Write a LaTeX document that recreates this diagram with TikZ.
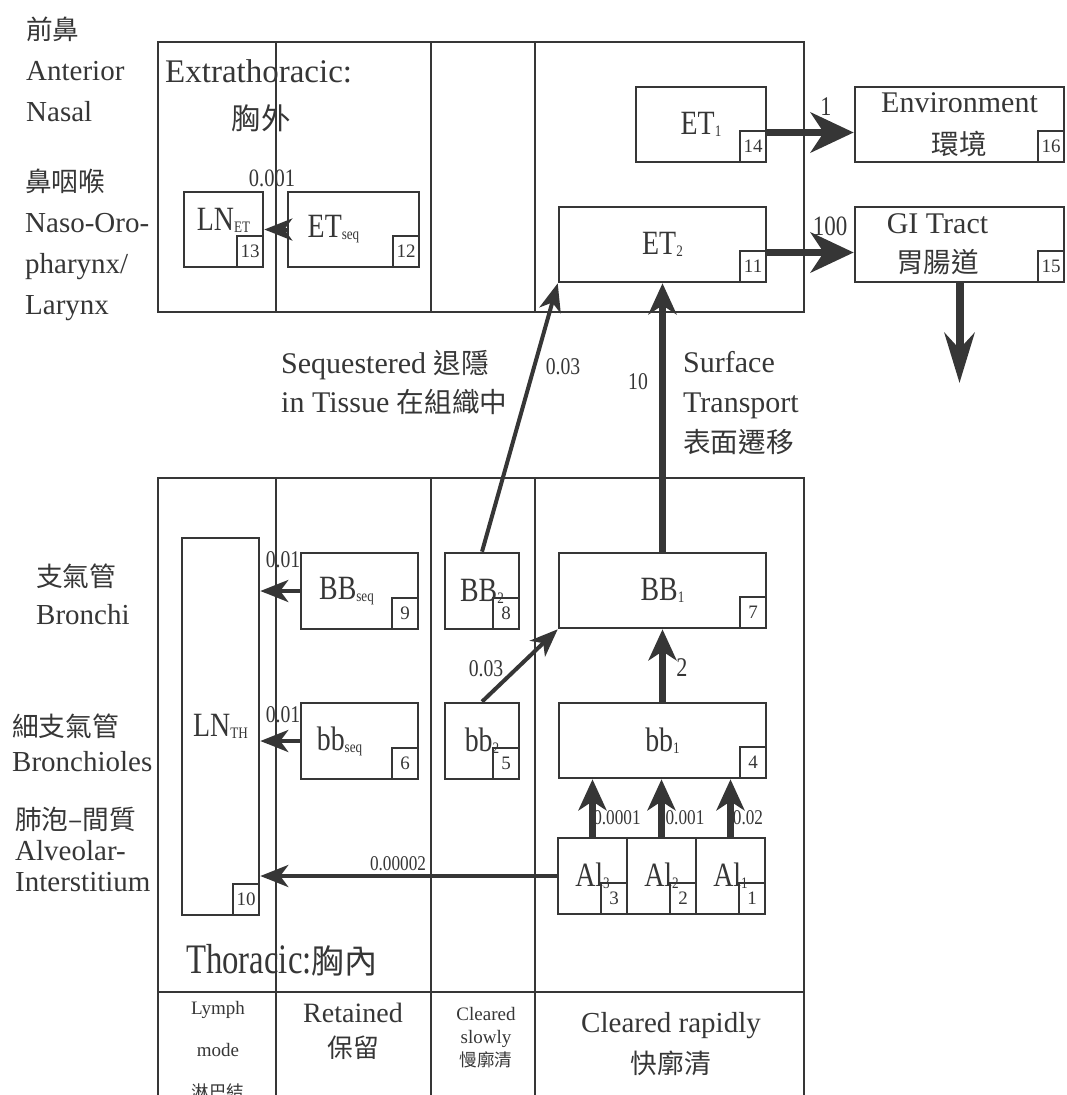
\documentclass[tikz,border=0pt]{standalone}
\usepackage{fontspec}
\setmainfont{Liberation Serif}
\newfontfamily\cond{Liberation Serif}[FakeStretch=0.82]
\newfontfamily\cjk{Noto Sans CJK TC}[Scale=0.92]
\usetikzlibrary{arrows.meta, positioning, calc}

\definecolor{ink}{HTML}{363636}
\newcommand\fsz[2]{\fontsize{#1}{#2}\selectfont}
\newcommand\subs[1]{\raisebox{-2pt}{\fsz{16}{16}#1}}

\begin{document}
\begin{tikzpicture}[x=1pt, y=-1pt,
        comp/.style={rectangle, draw=ink, line width=2.6pt, inner sep=0pt, text=ink, align=center, font=\cond\fsz{34}{38}},
        numbox/.style={rectangle, draw=ink, line width=2.4pt, anchor=south east, minimum width=26pt, minimum height=31pt, inner sep=0pt, text=ink, font=\fsz{19}{19}},
        frame/.style={draw=ink, line width=2.6pt},
        lbl/.style={text=ink, align=left, inner sep=0pt, font=\fsz{29}{41}},
        ttl/.style={text=ink, align=center, inner sep=0pt},
        rate/.style={text=ink, inner sep=0pt, font=\cond\fsz{24}{24}},
        thinarrow/.style={-{Stealth[length=28pt, width=22pt, inset=8pt]}, line width=4pt, draw=ink},
        thickarrow/.style={-{Stealth[length=31pt, width=28pt, inset=9pt]}, line width=7pt, draw=ink},
        bigarrow/.style={-{Stealth[length=43pt, width=40pt, inset=13pt]}, line width=7.5pt, draw=ink},
        downarrow/.style={-{Stealth[length=50pt, width=30pt, inset=16pt]}, line width=8pt, draw=ink}
    ]
    \useasboundingbox (0,0) rectangle (1067,1095);

    % region labels on the left
    \node[lbl, anchor=west] (antnasal) at (26,69) {{\cjk 前鼻}\\Anterior\\Nasal};
    \node[lbl, anchor=west] (nasoph) at (25,245) {{\cjk 鼻咽喉}\\Naso-Oro-\\pharynx/\\Larynx};
    \node[lbl, anchor=west, font=\fsz{29}{38}] (bronchi) at (36,594) {{\cjk 支氣管}\\Bronchi};
    \node[lbl, anchor=west, font=\fsz{29}{35}] (bronchioles) at (12,743) {{\cjk 細支氣管}\\Bronchioles};
    \node[lbl, anchor=west, font=\fsz{29}{31}] (alveolar) at (15,849) {{\cjk 肺泡–間質}\\Alveolar-\\Interstitium};

    % extrathoracic region
    \draw[frame] (158,42) rectangle (804,312);
    \foreach \x in {276,431,535}
        \draw[frame] (\x,42) -- (\x,312);
    \node[ttl, anchor=west, font=\fsz{33}{33}] (extitle) at (165,71) {Extrathoracic:};
    \node[ttl, font=\fsz{32}{32}] (exzh) at (261,118) {\cjk 胸外};

    \node[comp, minimum width=79pt, minimum height=75pt] (LNET) at (223.5,229.5) {\raisebox{20pt}{LN\subs{ET}}};
    \node[numbox] (num13) at (LNET.south east) {13};
    \node[comp, minimum width=131pt, minimum height=75pt] (ETseq) at (353.5,229.5) {ET\subs{seq}\hspace*{40pt}};
    \node[numbox] (num12) at (ETseq.south east) {12};
    \node[comp, minimum width=130pt, minimum height=75pt] (ET1) at (701,124.5) {ET\subs{1}};
    \node[numbox] (num14) at (ET1.south east) {14};
    \node[comp, minimum width=207pt, minimum height=75pt] (ET2) at (662.5,244.5) {ET\subs{2}};
    \node[numbox] (num11) at (ET2.south east) {11};

    \node[comp, minimum width=209pt, minimum height=75pt, font=\fsz{30}{42}] (Env) at (959.5,124.5) {Environment\\{\cjk 環境}};
    \node[numbox] (num16) at (Env.south east) {16};
    \node[comp, minimum width=209pt, minimum height=75pt, font=\fsz{30}{39}] (GI) at (959.5,244.5) {GI Tract\hspace*{44pt}\\{\cjk 胃腸道}\hspace*{44pt}};
    \node[numbox] (num15) at (GI.south east) {15};
    \coordinate (giout) at (959.5,383);

    % thoracic region
    \draw[frame] (158,478) rectangle (804,1120);
    \foreach \x in {276,431,535}
        \draw[frame] (\x,478) -- (\x,1120);
    \draw[frame] (158,992) -- (804,992);
    \node[ttl, anchor=west] (thtitle) at (186,960) {\scalebox{0.78}[1]{\fsz{42}{42}Thoracic:}{\cjk\fsz{36}{36}胸內}};

    \node[comp, minimum width=77pt, minimum height=377pt] (LNTH) at (220.5,726.5) {LN\subs{TH}};
    \node[numbox] (num10) at (LNTH.south east) {10};
    \node[comp, minimum width=117pt, minimum height=76pt] (BBseq) at (359.5,591) {BB\subs{seq}\hspace*{26pt}};
    \node[numbox] (num9) at (BBseq.south east) {9};
    \node[comp, minimum width=117pt, minimum height=76pt] (bbseq) at (359.5,741) {bb\subs{seq}\hspace*{40pt}};
    \node[numbox] (num6) at (bbseq.south east) {6};
    \node[comp, minimum width=74pt, minimum height=76pt] (BB2) at (482,591) {BB\subs{2}};
    \node[numbox] (num8) at (BB2.south east) {8};
    \node[comp, minimum width=74pt, minimum height=76pt] (bb2) at (482,741) {bb\subs{2}};
    \node[numbox] (num5) at (bb2.south east) {5};
    \node[comp, minimum width=207pt, minimum height=75pt] (BB1) at (662.5,590.5) {BB\subs{1}};
    \node[numbox] (num7) at (BB1.south east) {7};
    \node[comp, minimum width=207pt, minimum height=75pt] (bb1) at (662.5,740.5) {bb\subs{1}};
    \node[numbox] (num4) at (bb1.south east) {4};
    \foreach \i/\x in {3/592.5, 2/661.5, 1/730.5} {
        \node[comp, minimum width=69pt, minimum height=76pt] (Al\i) at (\x,876) {Al\subs{\i}};
        \node[numbox] (num\i) at (Al\i.south east) {\i};
    }

    % column captions
    \node[ttl, font=\fsz{19}{42}] (lymph) at (218,1051) {Lymph\\mode\\{\cjk 淋巴結}};
    \node[ttl, font=\fsz{28}{35}] (retained) at (353,1031) {Retained\\{\cjk 保留}};
    \node[ttl, font=\fsz{19}{23}] (slowly) at (486,1038) {Cleared\\slowly\\{\cjk 慢廓清}};
    \node[ttl, font=\fsz{29}{41}] (rapidly) at (671,1044) {Cleared rapidly\\{\cjk 快廓清}};

    % middle captions
    \node[lbl, anchor=west, font=\fsz{30}{39}] (seqtissue) at (281,382) {Sequestered {\cjk 退隱}\\in Tissue {\cjk 在組織中}};
    \node[lbl, anchor=west, font=\fsz{30}{40}] (surftrans) at (683,403) {Surface\\Transport\\{\cjk 表面遷移}};

    % transfers
    \draw[thinarrow] (ETseq.west) -- (LNET.east);
    \draw[bigarrow] ([yshift=-8pt]ET1.east) -- ([yshift=-8pt]Env.west);
    \draw[bigarrow] ([yshift=-8pt]ET2.east) -- ([yshift=-8pt]GI.west);
    \draw[downarrow] (GI.south) -- (giout);
    \draw[thickarrow] (BB1.north) -- (ET2.south);
    \draw[thinarrow] (BB2.north) -- (ET2.south west);
    \draw[thinarrow] (bb2.north) -- (BB1.south west);
    \draw[thickarrow] (bb1.north) -- (BB1.south);
    \draw[thinarrow] (BBseq.west) -- (BBseq.west -| LNTH.east);
    \draw[thinarrow] (bbseq.west) -- (bbseq.west -| LNTH.east);
    \draw[thinarrow] (Al3.west) -- (Al3.west -| LNTH.east);
    \foreach \i/\r/\lx in {3/0.0001/617, 2/0.001/685, 1/0.02/748} {
        \draw[thickarrow] (Al\i.north) -- (Al\i.north |- bb1.south);
        \node[rate, font=\cond\fsz{21}{21}] (rate\i) at (\lx,818) {\r};
    }

    % rate labels
    \node[rate, font=\cond\fsz{25}{25}] (rLNET) at (272,178) {0.001};
    \node[rate] (rBBseq) at (283,560) {0.01};
    \node[rate] (rbbseq) at (283,715) {0.01};
    \node[rate, font=\cond\fsz{21}{21}] (rLNTH) at (398,864) {0.00002};
    \node[rate] (rbb2) at (486,669) {0.03};
    \node[rate, font=\cond\fsz{27}{27}] (rbb1) at (682,668) {2};
    \node[rate] (rBB2) at (563,367) {0.03};
    \node[rate] (rBB1) at (638,382) {10};
    \node[rate, font=\cond\fsz{27}{27}] (rET1) at (826,107) {1};
    \node[rate, font=\cond\fsz{28}{28}] (rET2) at (830,226) {100};
\end{tikzpicture}
\end{document}
